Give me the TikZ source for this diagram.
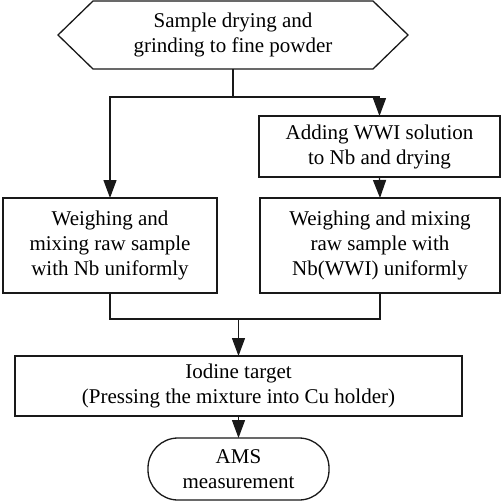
\documentclass[tikz,border=0pt]{standalone}
\usepackage{fontspec}
\setmainfont{Liberation Serif}
\usetikzlibrary{arrows.meta}
\begin{document}
\begin{tikzpicture}[x=1pt,y=-1pt,
  ln/.style={line width=1.3pt,draw=black!90},
  arr/.style={ln,-{Triangle[length=18pt,width=13pt]}},
  txt/.style={font=\fontsize{21}{25}\selectfont,align=center,inner sep=0pt,outer sep=0pt},
  boxx/.style={txt,ln,rectangle},
  ]
\useasboundingbox (0,0) rectangle (501,501);
% hexagon start
\node[txt,minimum width=280pt,minimum height=68pt] (hex) at (233,35) {Sample drying and\\grinding to fine powder};
\draw[ln] (hex.north west) -- (hex.north east) -- ([xshift=35pt]hex.east) -- (hex.south east) -- (hex.south west) -- ([xshift=-35pt]hex.west) -- cycle;
\node[boxx,minimum width=241pt,minimum height=61pt] (add) at (379.5,146.5) {Adding WWI solution\\to Nb and drying};
\node[boxx,minimum width=214pt,minimum height=95pt] (mixL) at (110,245.5) {Weighing and\\mixing raw sample\\with Nb uniformly};
\node[boxx,minimum width=240pt,minimum height=95pt] (mixR) at (380,245.5) {Weighing and mixing\\raw sample with\\Nb(WWI) uniformly};
\node[boxx,minimum width=447pt,minimum height=60pt] (iod) at (238.5,386) {Iodine target\\(Pressing the mixture into Cu holder)};
\node[boxx,rounded corners=30pt,minimum width=181pt,minimum height=62pt] (ams) at (238.5,469) {AMS\\measurement};
% connectors
\coordinate (s1) at (233,97);
\coordinate (j) at (238.5,319);
\draw[ln] (hex.south) -- (s1);
\draw[arr] (s1) -| (mixL.north);
\draw[arr] (s1) -| (add.north);
\draw[arr] (add.south) -- (mixR.north);
\draw[ln] (mixL.south) |- (j);
\draw[ln] (mixR.south) |- (j);
\draw[arr] (j) -- (iod.north);
\draw[arr] (iod.south) -- (ams.north);
\end{tikzpicture}
\end{document}
